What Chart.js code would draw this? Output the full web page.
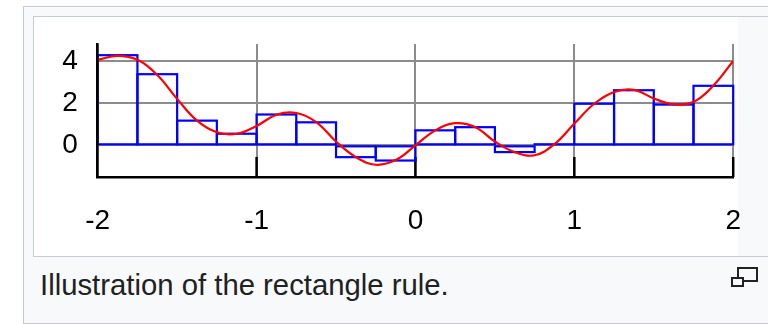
<!DOCTYPE html>
<html>
<head>
<meta charset="utf-8">
<script src="https://cdn.jsdelivr.net/npm/chart.js@4.4.0/dist/chart.umd.min.js"></script>
<style>
  html, body { margin: 0; padding: 0; background: #fff; }
  body { width: 768px; height: 324px; position: relative; overflow: hidden; font-family: "Liberation Sans", Arial, sans-serif; }
  .thumb { position: absolute; left: 23px; top: 6px; width: 790px; height: 318px; box-sizing: border-box; border: 1px solid #c8ccd1; background: #f8f9fa; }
  .image { position: absolute; left: 33px; top: 16px; width: 780px; height: 241px; box-sizing: border-box; border: 1px solid #c8ccd1; background: #f8f9fa; }
  .white { position: absolute; left: 34px; top: 17px; width: 704px; height: 239px; background: #fff; }
  #chart { position: absolute; left: 0; top: 0; }
  .caption { position: absolute; left: 40px; top: 268px; font-size: 29.3px; line-height: 34px; color: #202122; white-space: nowrap; }
  .mag-big { position: absolute; left: 737px; top: 267px; width: 21px; height: 15px; box-sizing: border-box; border: 2px solid #222; }
  .mag-small { position: absolute; left: 731px; top: 277px; width: 13px; height: 10px; box-sizing: border-box; border: 2px solid #222; background: #f8f9fa; }
</style>
</head>
<body>
<div class="thumb"></div>
<div class="image"></div>
<div class="white"></div>
<div class="caption">Illustration of the rectangle rule.</div>
<div class="mag-big"></div>
<div class="mag-small"></div>
<canvas id="chart" width="768" height="324"></canvas>
<script>
// axis ticks
const xTicks = [-2, -1, 0, 1, 2];
const yTicks = [0, 2, 4];

// rectangles: midpoint of each 0.25 wide strip and its height
const stripMids = [-1.875, -1.625, -1.375, -1.125, -0.875, -0.625, -0.375, -0.125,
                   0.125, 0.375, 0.625, 0.875, 1.125, 1.375, 1.625, 1.875];
const stripHeights = [4.27, 3.37, 1.17, 0.55, 1.46, 1.09, -0.56, -0.72,
                      0.71, 0.86, -0.32, 0.05, 1.97, 2.61, 1.93, 2.82];

// the red function
const curveX = [-2, -1.875, -1.75, -1.625, -1.5, -1.375, -1.25, -1.125, -1,
                -0.875, -0.75, -0.625, -0.5, -0.375, -0.25, -0.125, 0,
                0.125, 0.25, 0.375, 0.5, 0.625, 0.75, 0.875, 1,
                1.125, 1.25, 1.375, 1.5, 1.625, 1.75, 1.875, 2];
const curveY = [4.05, 4.24, 4.05, 3.33, 2.2, 1.17, 0.62, 0.55, 0.92,
                1.45, 1.53, 1.1, 0.18, -0.56, -0.92, -0.7, 0.0,
                0.71, 1.05, 0.87, 0.18, -0.32, -0.47, 0.06, 1.03,
                1.97, 2.53, 2.63, 2.22, 1.94, 2.06, 2.83, 4.0];

const BLUE = '#0000ff';
const RED = '#ff0000';
const GRID = '#8c8c8c';
const FONT = { family: '"Liberation Sans", Arial, sans-serif', size: 28 };

// outlines of the rectangles, stroked on the bar elements
const rectOutline = {
  id: 'rectOutline',
  afterDatasetDraw(chart, args) {
    if (args.meta.type !== 'bar') return;
    const ctx = chart.ctx;
    ctx.save();
    ctx.strokeStyle = BLUE;
    ctx.lineWidth = 2.2;
    args.meta.data.forEach((bar) => {
      const top = Math.min(bar.y, bar.base);
      ctx.strokeRect(bar.x - bar.width / 2, top, bar.width, Math.abs(bar.base - bar.y));
    });
    ctx.restore();
  },
};

// short black tick marks pointing up from the x axis
const innerTicks = {
  id: 'innerTicks',
  beforeDatasetsDraw(chart) {
    const ctx = chart.ctx;
    const area = chart.chartArea;
    const x = chart.scales.x;
    ctx.save();
    ctx.strokeStyle = '#000';
    ctx.lineWidth = 2.5;
    xTicks.slice(1).forEach((v) => {
      const px = x.getPixelForValue(v);
      ctx.beginPath();
      ctx.moveTo(px, area.bottom);
      ctx.lineTo(px, area.bottom - 20);
      ctx.stroke();
    });
    ctx.restore();
  },
};

new Chart(document.getElementById('chart').getContext('2d'), {
  type: 'bar',
  data: {
    datasets: [
      {
        type: 'line',
        data: curveX.map((x, i) => ({ x, y: curveY[i] })),
        borderColor: RED,
        borderWidth: 2.2,
        pointRadius: 0,
        tension: 0.4,
        fill: false,
        order: 0,
      },
      {
        type: 'bar',
        data: stripMids.map((x, i) => ({ x, y: stripHeights[i] })),
        backgroundColor: 'rgba(0,0,0,0)',
        borderWidth: 0,
        barPercentage: 1,
        categoryPercentage: 1,
        order: 1,
      },
    ],
  },
  options: {
    responsive: false,
    animation: false,
    events: [],
    layout: { padding: { left: 37.7, right: 34.4, top: 44, bottom: 67 } },
    plugins: { legend: { display: false }, tooltip: { enabled: false } },
    scales: {
      x: {
        type: 'linear',
        min: -2,
        max: 2,
        offset: false,
        afterBuildTicks: (s) => { s.ticks = xTicks.map((v) => ({ value: v })); },
        afterFit: (s) => { s.height = 80; },
        grid: { color: GRID, lineWidth: 2, drawTicks: false, offset: false },
        border: { color: '#000', width: 2.5, z: 1 },
        ticks: { color: '#000', font: FONT, padding: 27, maxRotation: 0 },
      },
      y: {
        type: 'linear',
        min: -1.5,
        max: 4.8,
        afterBuildTicks: (s) => { s.ticks = yTicks.map((v) => ({ value: v })); },
        afterFit: (s) => { s.width = 60; },
        grid: { color: GRID, lineWidth: 2, drawTicks: false },
        border: { color: '#000', width: 2.5, z: 1 },
        ticks: { color: '#000', font: FONT, padding: 20 },
      },
    },
  },
  plugins: [rectOutline, innerTicks],
});
</script>
</body>
</html>
